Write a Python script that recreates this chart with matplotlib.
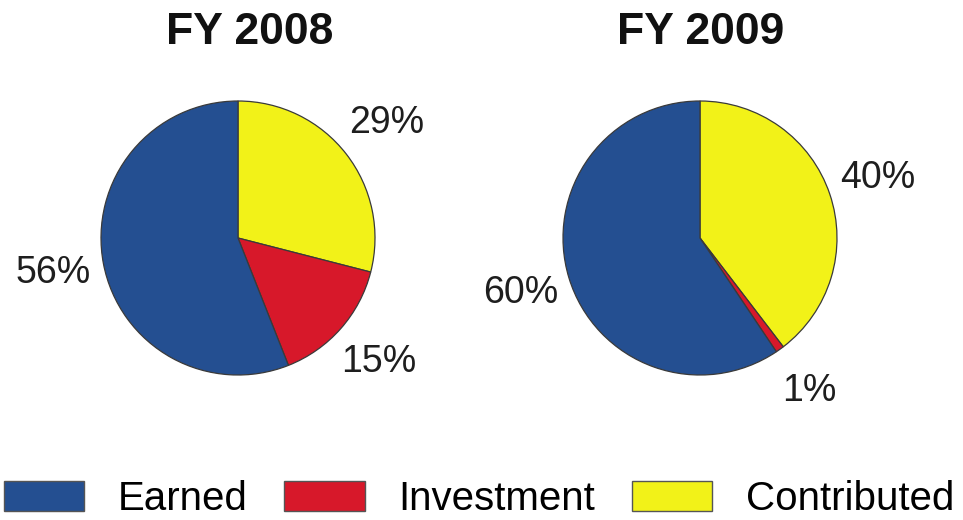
import matplotlib
matplotlib.use("Agg")
import matplotlib.pyplot as plt
from matplotlib.patches import Patch
import numpy as np

plt.rcParams['font.family'] = ['Liberation Sans', 'DejaVu Sans']

# ---- data ----
titles = ["FY 2008", "FY 2009"]
categories = ["Contributed", "Investment", "Earned"]
values_2008 = [29, 15, 56]
values_2009 = [40, 1, 60]
labels_2008 = ["29%", "15%", "56%"]
labels_2009 = ["40%", "1%", "60%"]
legend_order = ["Earned", "Investment", "Contributed"]

colors = {"Contributed": "#F2F218", "Investment": "#D7182A", "Earned": "#244F91"}
edge = "#3a3a3a"

W, H = 963, 520
fig = plt.figure(figsize=(W / 100, H / 100), dpi=100)

R = 137.0
LIM = 1.6
side = 2 * LIM * R
centers = [(238, 282), (700, 282)]
title_x = [250, 701]

for (cx, cy), tx, title, vals, labs in zip(centers, title_x, titles,
                                           [values_2008, values_2009],
                                           [labels_2008, labels_2009]):
    ax = fig.add_axes([(cx - side / 2) / W, (cy - side / 2) / H, side / W, side / H])
    wedges, _ = ax.pie(vals, colors=[colors[c] for c in categories],
                       startangle=90, counterclock=False,
                       wedgeprops=dict(edgecolor=edge, linewidth=0.9))
    ax.set_xlim(-LIM, LIM)
    ax.set_ylim(-LIM, LIM)
    ax.set_aspect('equal')
    ax.axis('off')
    for w, lab in zip(wedges, labs):
        mid = np.deg2rad((w.theta1 + w.theta2) / 2)
        d = 1.37
        ax.text(d * np.cos(mid), d * np.sin(mid), lab, ha='center', va='center',
                fontsize=27, color='#1e1e1e')
    fig.text(tx / W, 1 - 33 / H, title, ha='center', va='center',
             fontsize=32, fontweight='bold', color='#111111')

handles = [Patch(facecolor=colors[c], edgecolor='#555555', linewidth=1.0) for c in legend_order]
fig.legend(handles, legend_order, loc='center', bbox_to_anchor=(479 / W, 1 - 499 / H),
           ncol=3, frameon=False, fontsize=29, handlelength=2.0, handleheight=0.78,
           handletextpad=0.84, columnspacing=0.9, borderpad=0, borderaxespad=0)

fig.savefig("out.png", dpi=100)
